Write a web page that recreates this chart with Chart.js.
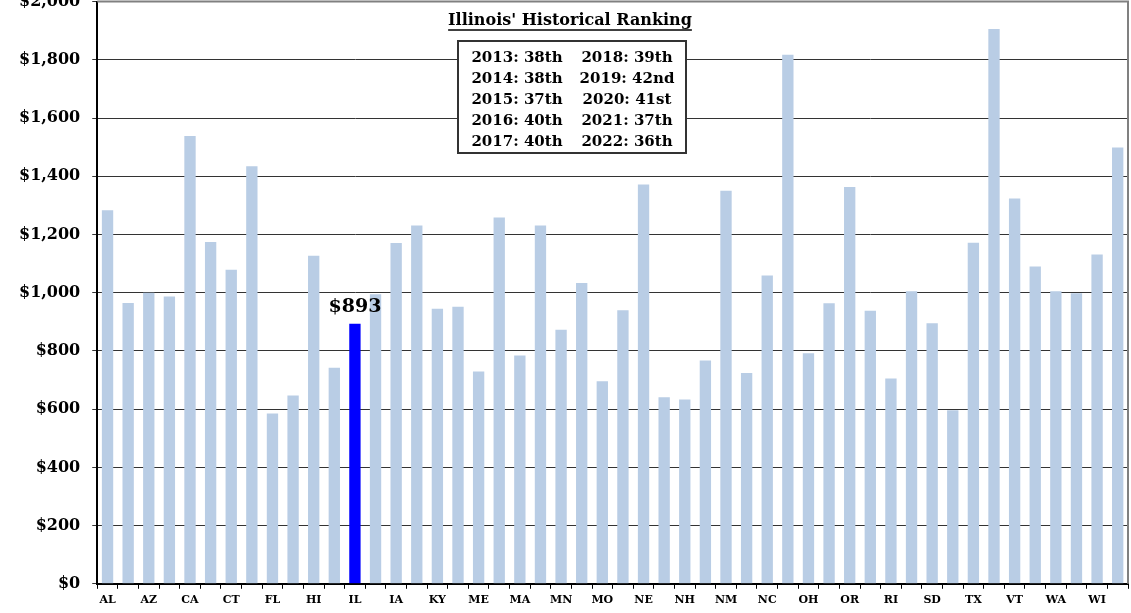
<!DOCTYPE html>
<html lang="en">
<head>
    <meta charset="UTF-8">
    <title>Illinois' Historical Ranking</title>
    <script src="https://cdn.jsdelivr.net/npm/chart.js"></script>
    <style>
        html, body {
            margin: 0;
            padding: 0;
            background: #ffffff;
            overflow: hidden;
        }
        .wrap {
            position: absolute;
            left: 0;
            top: -20px;
            width: 1131px;
            height: 633px;
        }
    </style>
</head>
<body>
    <div class="wrap">
        <canvas id="stateChart"></canvas>
    </div>
    <script>
        // States in alphabetical order of their full names
        const states = ['AL', 'AK', 'AZ', 'AR', 'CA', 'CO', 'CT', 'DE', 'FL', 'GA',
                        'HI', 'ID', 'IL', 'IN', 'IA', 'KS', 'KY', 'LA', 'ME', 'MD',
                        'MA', 'MI', 'MN', 'MS', 'MO', 'MT', 'NE', 'NV', 'NH', 'NJ',
                        'NM', 'NY', 'NC', 'ND', 'OH', 'OK', 'OR', 'PA', 'RI', 'SC',
                        'SD', 'TN', 'TX', 'UT', 'VT', 'VA', 'WA', 'WV', 'WI', 'WY'];
        const values = [1283, 965, 1000, 987, 1538, 1174, 1079, 1434, 585, 647,
                        1127, 742, 893, 995, 1171, 1231, 945, 952, 729, 1258,
                        784, 1231, 873, 1033, 696, 940, 1372, 641, 633, 767,
                        1350, 724, 1059, 1817, 792, 964, 1363, 938, 705, 1005,
                        895, 596, 1172, 1906, 1324, 1090, 1005, 998, 1131, 1499];
        const highlight = 'IL';
        const yTicks = [0, 200, 400, 600, 800, 1000, 1200, 1400, 1600, 1800, 2000];

        const rankTitle = "Illinois' Historical Ranking";
        const rankLeft = ['2013: 38th', '2014: 38th', '2015: 37th', '2016: 40th', '2017: 40th'];
        const rankRight = ['2018: 39th', '2019: 42nd', '2020: 41st', '2021: 37th', '2022: 36th'];

        const serif = "'DejaVu Serif', 'Liberation Serif', serif";

        // draws the frame, the ranking box and the label over Illinois
        const extras = {
            id: 'extras',
            afterDraw(chart) {
                const ctx = chart.ctx;
                const a = chart.chartArea;
                ctx.save();

                // gray frame on top and right
                ctx.strokeStyle = '#808080';
                ctx.lineWidth = 2;
                ctx.beginPath();
                ctx.moveTo(a.left, a.top);
                ctx.lineTo(a.right, a.top);
                ctx.lineTo(a.right, a.bottom);
                ctx.stroke();

                // value label over the highlighted bar
                const idx = states.indexOf(highlight);
                const bar = chart.getDatasetMeta(0).data[idx];
                ctx.fillStyle = '#000000';
                ctx.font = 'bold 19px ' + serif;
                ctx.textAlign = 'center';
                ctx.textBaseline = 'bottom';
                ctx.fillText('$' + values[idx], bar.x, bar.y - 7);

                // ranking title, underlined (canvas sits 20px above the page)
                const off = 20;
                ctx.font = 'bold 16px ' + serif;
                ctx.textBaseline = 'middle';
                const tx = 570, ty = 21 + off;
                ctx.fillText(rankTitle, tx, ty);
                const w = ctx.measureText(rankTitle).width;
                ctx.lineWidth = 1.5;
                ctx.strokeStyle = '#000000';
                ctx.beginPath();
                ctx.moveTo(tx - w / 2, ty + 9);
                ctx.lineTo(tx + w / 2, ty + 9);
                ctx.stroke();

                // ranking box
                ctx.fillStyle = '#ffffff';
                ctx.fillRect(458, 41 + off, 228, 112);
                ctx.strokeStyle = '#333333';
                ctx.lineWidth = 2;
                ctx.strokeRect(458, 41 + off, 228, 112);
                ctx.fillStyle = '#000000';
                ctx.font = 'bold 15px ' + serif;
                rankLeft.forEach((t, i) => {
                    ctx.fillText(t, 517, 58 + i * 21 + off);
                    ctx.fillText(rankRight[i], 627, 58 + i * 21 + off);
                });
                ctx.restore();
            }
        };

        const ctx = document.getElementById('stateChart').getContext('2d');
        const chart = new Chart(ctx, {
            type: 'bar',
            data: {
                labels: states,
                datasets: [{
                    data: values,
                    backgroundColor: states.map(s => s === highlight ? '#0000FF' : '#B9CDE5'),
                    borderWidth: 0,
                    categoryPercentage: 1,
                    barPercentage: 0.55
                }]
            },
            options: {
                responsive: true,
                maintainAspectRatio: false,
                animation: false,
                layout: {
                    padding: { left: 7, right: 3, top: 0, bottom: 1 }
                },
                plugins: {
                    legend: { display: false },
                    tooltip: { enabled: false }
                },
                scales: {
                    x: {
                        offset: true,
                        grid: {
                            display: true,
                            drawOnChartArea: false,
                            offset: true,
                            tickLength: 5,
                            color: '#000000'
                        },
                        border: { color: '#000000', width: 2 },
                        ticks: {
                            autoSkip: false,
                            maxRotation: 0,
                            padding: 5,
                            color: '#000000',
                            font: { family: serif, size: 11, weight: 'bold' },
                            callback: (v, i) => i % 2 === 0 ? states[i] : ''
                        }
                    },
                    y: {
                        min: yTicks[0],
                        max: yTicks[yTicks.length - 1],
                        afterBuildTicks: scale => {
                            scale.ticks = yTicks.map(v => ({ value: v }));
                        },
                        grid: {
                            color: '#333333',
                            lineWidth: 1,
                            tickLength: 5
                        },
                        border: { color: '#000000', width: 2 },
                        ticks: {
                            padding: 12,
                            color: '#000000',
                            font: { family: serif, size: 16, weight: 'bold' },
                            callback: v => '$' + v.toLocaleString('en-US')
                        }
                    }
                }
            },
            plugins: [extras]
        });
    </script>
</body>
</html>
